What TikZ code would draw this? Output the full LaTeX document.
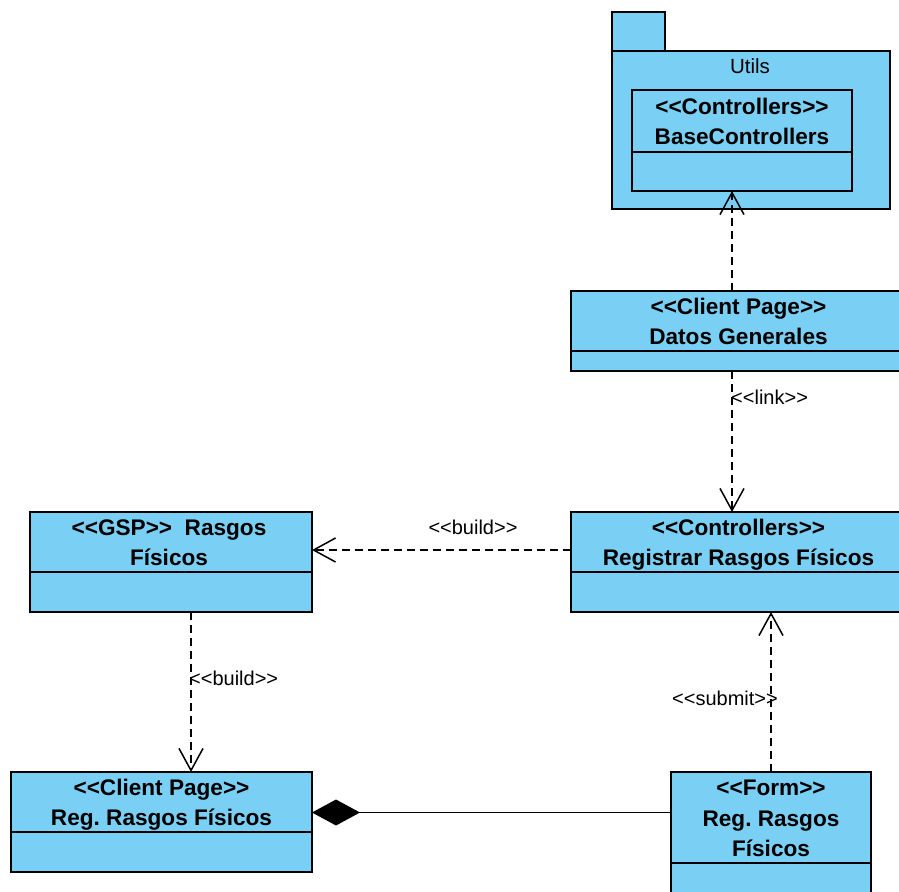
\documentclass[tikz,border=0pt]{standalone}
\usepackage{fontspec}
\setmainfont[Ligatures=NoCommon]{Liberation Sans}
\usetikzlibrary{arrows.meta}
\definecolor{umlfill}{HTML}{7ACFF4}
% stereotype brackets, kept as two separate angle signs
\newcommand\stereo[1]{<{}<#1>{}>}
\frenchspacing
\begin{document}
\begin{tikzpicture}[x=1pt,y=-1pt,
  box/.style={draw=black, line width=1.9pt, fill=umlfill, anchor=north west,
    inner sep=0pt, outer sep=0pt},
  sepline/.style={draw=black, line width=1.9pt},
  title/.style={font=\fontsize{22.6}{26}\selectfont\bfseries, anchor=base, inner sep=0pt},
  pkgname/.style={font=\fontsize{20.5}{24}\selectfont, anchor=base, inner sep=0pt},
  lbl/.style={font=\fontsize{20}{24}\selectfont, inner sep=0pt},
  dep/.style={draw=black, line width=1.5pt, dash pattern=on 8pt off 5pt,
    -{Straight Barb[length=22pt,width=24pt]}},
  comp/.style={draw=black, line width=1.5pt, {Diamond[length=48pt,width=26pt,fill=black]}-},
]
\useasboundingbox (0,0) rectangle (899,891);
\clip (0,0) rectangle (899,891);

% package Utils
\node[box, minimum width=53pt, minimum height=39pt] (pkgtab) at (612,12) {};
\node[box, minimum width=278pt, minimum height=158pt] (pkg) at (612,51) {};
\node[pkgname] (pkgt) at (750,74) {Utils};

% BaseControllers
\node[box, minimum width=220pt, minimum height=101pt] (base) at (632,90) {};
\draw[sepline] ([yshift=-62pt]base.north west) -- ([yshift=-62pt]base.north east);
\node[title] (base1) at (742,114) {\stereo{Controllers}};
\node[title] (base2) at (742,144) {BaseControllers};

% Datos Generales
\node[box, minimum width=335pt, minimum height=80pt] (datos) at (571,291) {};
\draw[sepline] ([yshift=-60pt]datos.north west) -- ([yshift=-60pt]datos.north east);
\node[title] (datos1) at (738.5,314) {\stereo{Client Page}};
\node[title] (datos2) at (738.5,344) {Datos Generales};

% Registrar Rasgos Fisicos
\node[box, minimum width=335pt, minimum height=100pt] (reg) at (571,512) {};
\draw[sepline] ([yshift=-60pt]reg.north west) -- ([yshift=-60pt]reg.north east);
\node[title] (reg1) at (738.5,535) {\stereo{Controllers}};
\node[title] (reg2) at (738.5,565) {Registrar Rasgos Físicos};

% GSP Rasgos Fisicos
\node[box, minimum width=282pt, minimum height=100pt] (gsp) at (30,512) {};
\draw[sepline] ([yshift=-60pt]gsp.north west) -- ([yshift=-60pt]gsp.north east);
\node[title] (gsp1) at (169,535) {\stereo{GSP}\ \ Rasgos};
\node[title] (gsp2) at (169,565) {Físicos};

% Client Page Reg. Rasgos Fisicos
\node[box, minimum width=301pt, minimum height=100pt] (cpreg) at (11,772) {};
\draw[sepline] ([yshift=-60pt]cpreg.north west) -- ([yshift=-60pt]cpreg.north east);
\node[title] (cpreg1) at (161.5,795) {\stereo{Client Page}};
\node[title] (cpreg2) at (161.5,825) {Reg. Rasgos Físicos};

% Form Reg. Rasgos Fisicos
\node[box, minimum width=200pt, minimum height=131pt] (form) at (671,772) {};
\draw[sepline] ([yshift=-91pt]form.north west) -- ([yshift=-91pt]form.north east);
\node[title] (form1) at (771,795) {\stereo{Form}};
\node[title] (form2) at (771,826) {Reg. Rasgos};
\node[title] (form3) at (771,856) {Físicos};

% connector guides
\coordinate (xa) at (732,0);
\coordinate (xc) at (191,0);
\coordinate (yb) at (0,550);
\coordinate (yd) at (0,812.5);

% dependencies
\draw[dep] (datos.north -| xa) -- (base.south -| xa);
\draw[dep] (datos.south -| xa) -- (reg.north -| xa);
\node[lbl, anchor=west] (linkl) at (731,397) {\stereo{link}};
\draw[dep] (reg.west |- yb) -- (gsp.east |- yb);
\node[lbl] (buildh) at (473,527) {\stereo{build}};
\draw[dep] (gsp.south -| xc) -- (cpreg.north -| xc);
\node[lbl, anchor=west] (buildv) at (189,678) {\stereo{build}};
\draw[dep] (form.north) -- (reg.south -| form.north);
\node[lbl] (submitl) at (725,698) {\stereo{submit}};

% composition
\draw[comp] (cpreg.east |- yd) -- (form.west |- yd);
\end{tikzpicture}
\end{document}
